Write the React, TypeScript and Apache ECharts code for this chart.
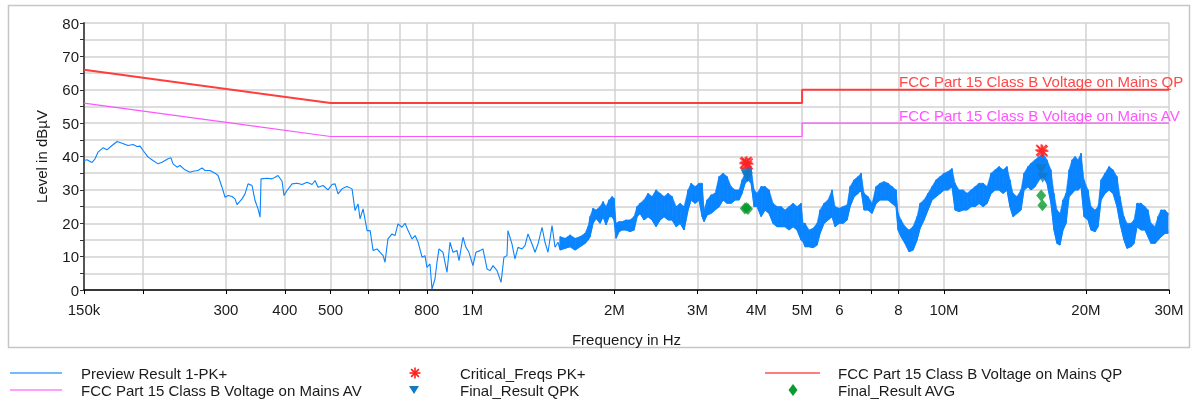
import React, { useEffect, useRef } from 'react';
import * as echarts from 'echarts';

const W = 1196;
const H = 402;
const FONT = '"Liberation Sans", Arial, Helvetica, sans-serif';

// ---- axis ticks ----
const xTickFreqHz = [150e3, 200e3, 300e3, 400e3, 500e3, 600e3, 700e3, 800e3, 1e6, 2e6, 3e6, 4e6, 5e6, 6e6, 7e6, 8e6, 10e6, 20e6, 30e6];
const xTickLabels = ['150k', '', '300', '400', '500', '', '', '800', '1M', '2M', '3M', '4M', '5M', '6', '', '8', '10M', '20M', '30M'];

// ---- limit lines (MHz, dBµV) ----
const qpLimitFreqMHz = [0.15, 0.5, 5, 5, 30];
const qpLimitLevel = [66, 56, 56, 60, 60];
const avLimitFreqMHz = [0.15, 0.5, 5, 5, 30];
const avLimitLevel = [56, 46, 46, 50, 50];

// ---- preview trace, low band (MHz, dBµV) ----
const previewLow: [number, number][] = [
  [0.150, 38.8], [0.1522, 39], [0.1560, 38.2], [0.1583, 39.3], [0.1606, 41.3], [0.1646, 42.6], [0.1678, 42], [0.1720, 43.3],
  [0.1763, 44.5], [0.1806, 44], [0.1860, 43.3], [0.1906, 43.6], [0.1944, 43], [0.1972, 43.1], [0.2002, 41.8], [0.2051, 39.8],
  [0.2101, 38.8], [0.2154, 37.8], [0.2196, 38.3], [0.2228, 38.8], [0.2261, 39.3], [0.2294, 39.6], [0.2317, 37.8], [0.2362, 36.8],
  [0.2397, 37.3], [0.2456, 36], [0.2517, 35.3], [0.2554, 35.6], [0.2617, 35.8], [0.2669, 36.6], [0.2708, 35.8], [0.2775, 35.8],
  [0.2844, 35], [0.2886, 34.3], [0.2943, 30.8], [0.2987, 27.8], [0.3031, 28.3], [0.3091, 28], [0.3136, 27.3], [0.3167, 25.6],
  [0.3245, 27.3], [0.3293, 28.8], [0.3342, 31.8], [0.3408, 31.3], [0.3458, 26.8], [0.3509, 24.3], [0.3544, 21.8], [0.3561, 33.3],
  [0.3667, 33.5], [0.3757, 33.3], [0.3813, 33.8], [0.3869, 34.3], [0.3945, 32.6], [0.3984, 28.3], [0.4043, 29.8], [0.4143, 31.8],
  [0.4245, 32], [0.4351, 31.6], [0.4458, 32.3], [0.4568, 31.6], [0.4636, 32.8], [0.4704, 30.8], [0.4821, 31.3], [0.4938, 30],
  [0.5036, 31.6], [0.5111, 31.8], [0.5186, 28.8], [0.5289, 30.3], [0.5366, 30.8], [0.5419, 31], [0.5553, 30.3], [0.5635, 23.8],
  [0.5719, 25.8], [0.5775, 21.3], [0.5860, 24.3], [0.5977, 17.8], [0.6066, 17.8], [0.6155, 11.8], [0.6276, 12.3], [0.6369, 11.3],
  [0.6464, 10.3], [0.6522, 8.3], [0.6618, 15.3], [0.6749, 16.8], [0.6849, 16.3], [0.6950, 19.8], [0.7087, 18.8], [0.7195, 20],
  [0.7301, 17.8], [0.7446, 15.3], [0.7556, 16.3], [0.7668, 14.3], [0.7819, 9.8], [0.7929, 10.3], [0.8007, 6.8], [0.8125, 7.8],
  [0.8205, 0.3], [0.8326, 3.3], [0.8408, 8.3], [0.8490, 12.3], [0.8658, 11.3], [0.8829, 5.3], [0.8959, 14.3], [0.9092, 11.3],
  [0.9271, 11.8], [0.9362, 8.8], [0.9547, 15.8], [0.9684, 12.8], [0.9827, 11.3], [1.0022, 7.3], [1.0169, 11.3], [1.0371, 11.8],
  [1.0524, 12.3], [1.0737, 6.3], [1.0895, 5.8], [1.1056, 7.3], [1.1274, 5.8], [1.1497, 2.3], [1.166, 9.8], [1.1833, 10.3],
  [1.1890, 17.8], [1.2125, 13.8], [1.2305, 9.3], [1.2487, 12.8], [1.2733, 12.3], [1.2923, 13.3], [1.3113, 16.8], [1.3373, 13.8],
  [1.3571, 11.3], [1.3771, 13.8], [1.4043, 18.8], [1.4249, 14.3], [1.4459, 11.3], [1.4746, 19.3], [1.4964, 12.8], [1.5185, 14.3],
];

// ---- preview trace, dense band (MHz, upper dBµV, lower dBµV) ----
const previewDense: [number, number, number][] = [
  [1.5334, 16, 12], [1.5717, 15.5, 12.5], [1.6106, 16.5, 13], [1.6505, 15.5, 12], [1.6913, 16, 13], [1.7324, 17, 14],
  [1.7580, 19, 15], [1.7754, 22, 16], [1.8016, 24.5, 20], [1.8281, 24, 21.5], [1.8643, 25, 20], [1.8919, 26.5, 22],
  [1.9196, 25, 19.5], [1.9480, 27, 22], [1.9769, 28, 22], [1.9962, 27.5, 21], [2.0158, 20, 15.5], [2.0457, 20.5, 17.5],
  [2.0759, 20.5, 18], [2.1165, 21, 18], [2.1585, 21, 17.5], [2.2010, 22, 18], [2.2335, 25, 22], [2.2666, 26, 23],
  [2.311, 27, 21], [2.3565, 29, 22], [2.4032, 28, 21], [2.4506, 30, 19], [2.4991, 29, 21], [2.549, 28, 22],
  [2.5992, 29, 21], [2.6507, 28, 21], [2.7030, 25, 19], [2.7565, 26, 20], [2.810, 25, 18], [2.8654, 30, 24],
  [2.9078, 32, 27], [2.9654, 31, 26], [3.0238, 32, 27], [3.0685, 32, 22], [3.098, 24, 20.5], [3.1438, 27, 22.5],
  [3.2058, 28.5, 23], [3.2693, 29, 24], [3.3338, 34, 25], [3.3997, 35, 27], [3.4666, 34, 26], [3.5349, 31, 26],
  [3.6049, 30, 27], [3.6760, 30, 27], [3.7303, 33, 29], [3.7855, 35, 32], [3.8412, 37, 33], [3.8981, 36.5, 32],
  [3.9557, 30, 25], [4.0141, 29, 25], [4.0936, 31, 22], [4.1733, 31, 24], [4.2556, 30, 23], [4.3399, 26, 20],
  [4.4254, 25, 19], [4.5131, 25, 19], [4.6014, 24, 19], [4.6921, 25, 18], [4.7851, 26, 19], [4.8794, 25, 18],
  [4.9760, 26, 15], [5.0250, 20, 14.5], [5.0727, 20, 13], [5.1727, 18, 13], [5.2752, 18.5, 12.7], [5.3791, 20, 13.5],
  [5.4589, 24, 17], [5.566, 26, 20], [5.6757, 27, 21], [5.7881, 30, 22], [5.8738, 25, 19], [5.9896, 24.5, 20],
  [6.1081, 25, 20], [6.2288, 25.5, 21], [6.3209, 31, 25], [6.4455, 33, 28], [6.5732, 34, 29], [6.6702, 35, 30],
  [6.767, 29, 24], [6.9003, 28, 24], [7.0370, 26, 23], [7.1757, 31, 26], [7.3178, 32, 27], [7.461, 32.5, 27],
  [7.6080, 32, 27], [7.7587, 31, 26], [7.9116, 30, 25], [7.9900, 23, 18], [8.1079, 21, 16], [8.2663, 19, 14],
  [8.4292, 18, 11.5], [8.5962, 19, 12], [8.7656, 22, 15], [8.8956, 26, 18.5], [9.070, 27, 21], [9.2487, 29, 24],
  [9.4319, 31, 27], [9.6178, 33, 28], [9.8083, 34, 29], [10.00, 35, 30], [10.197, 35.5, 30], [10.399, 36.4, 31],
  [10.553, 32, 24], [10.761, 30, 23.5], [10.974, 30, 24], [11.193, 29, 24], [11.414, 30, 25], [11.640, 31, 25],
  [11.869, 32, 26], [12.104, 32, 25], [12.340, 31, 26], [12.583, 35, 29], [12.832, 36, 30], [13.085, 37, 30],
  [13.344, 36, 29], [13.598, 37, 30], [13.799, 33, 25], [14.003, 29, 22], [14.279, 28, 23], [14.562, 30, 24],
  [14.78, 35, 30], [15.071, 37, 31], [15.294, 38, 30], [15.597, 39, 31], [15.905, 40, 33], [16.220, 41, 34],
  [16.531, 39, 32], [16.857, 36, 26], [17.106, 29, 18], [17.359, 24, 14], [17.616, 23, 13.5], [17.877, 27, 18],
  [18.146, 29, 20], [18.414, 36, 28], [18.687, 39, 29], [18.964, 40, 30], [19.244, 39, 30], [19.528, 41, 31],
  [19.81, 33, 22], [20.200, 30, 21], [20.499, 25, 18], [20.906, 24, 17.5], [21.214, 25, 19], [21.528, 33, 27],
  [21.947, 35, 29], [22.379, 37, 30], [22.823, 36, 29], [23.273, 34, 25], [23.618, 28, 20], [24.08, 22, 15],
  [24.436, 20, 12.5], [24.918, 20, 13], [25.286, 21, 14], [25.660, 26, 19], [26.168, 26, 18], [26.680, 25, 18],
  [27.073, 24, 16], [27.474, 20, 14], [28.018, 19, 14], [28.432, 22, 15], [28.852, 24, 16], [29.423, 24, 17],
  [29.857, 23, 17],
];

// ---- markers ----
const critFreqMHz = [3.79, 3.81, 3.83, 16.09, 16.17];
const critLevel = [38.0, 38.3, 37.8, 41.9, 41.6];
const qpkFreqMHz = [3.79, 3.81, 3.83, 16.07, 16.19];
const qpkLevel = [35.2, 34.5, 33.8, 36.2, 33.6];
const avgFreqMHz = [3.78, 3.81, 3.84, 16.07, 16.17];
const avgLevel = [24.4, 24.6, 24.3, 28.3, 25.4];

const NAMES = {
  preview: 'Preview Result 1-PK+',
  qp: 'FCC Part 15 Class B Voltage on Mains QP',
  av: 'FCC Part 15 Class B Voltage on Mains AV',
  crit: 'Critical_Freqs PK+',
  qpk: 'Final_Result QPK',
  avg: 'Final_Result AVG',
};

const COLORS = {
  preview: '#0a84ff',
  qp: '#ff3d3d',
  av: '#ff55ff',
  crit: '#ff1f1f',
  qpk: '#1279c2',
  avg: '#0a9a2e',
  grid: '#d2d2d2',
  text: '#1a1a1a',
};

const ASTERISK =
  'path://M0,4.2H10V5.8H0Z M4.2,0H5.8V10H4.2Z M1.2,0.1L9.9,8.8L8.8,9.9L0.1,1.2Z M8.8,0.1L9.9,1.2L1.2,9.9L0.1,8.8Z';

const lx = (mhz: number) => Math.log10(mhz * 1e6);

export default function App() {
  const ref = useRef<HTMLDivElement>(null);

  useEffect(() => {
    if (!ref.current) return;
    const chart = echarts.init(ref.current, null, { renderer: 'svg', width: W, height: H });

    // low band: ordinary polyline
    const lowData: number[][] = previewLow.map(([f, v]) => [lx(f), v]);
    // dense band: the sweep swings between the read upper and lower envelope
    const last = previewLow[previewLow.length - 1];
    const denseData: number[][] = [[lx(last[0]), last[1]]];
    previewDense.forEach(([f, hi, lo], i) => {
      if (i === 0) {
        denseData.push([lx(f), lo], [lx(f), hi]);
        return;
      }
      const [pf, , plo] = previewDense[i - 1];
      denseData.push([lx(f), lo], [lx(pf), plo], [lx(f), hi]);
    });
    // cells between consecutive envelope readings, filled as the swept band
    const bandCells: number[][] = [];
    for (let i = 0; i < previewDense.length - 1; i++) {
      const [f0, h0, l0] = previewDense[i];
      const [f1, h1, l1] = previewDense[i + 1];
      bandCells.push([lx(f0), h0, l0, lx(f1), h1, l1]);
    }

    const tickVals = xTickFreqHz.map((f) => Math.log10(f));
    const labelVals = tickVals.filter((_, i) => xTickLabels[i] !== '');

    chart.setOption({
      animation: false,
      textStyle: { fontFamily: FONT },
      grid: { left: 84, right: 27, top: 23, bottom: 112 },
      xAxis: {
        type: 'value',
        min: lx(0.15),
        max: lx(30),
        name: 'Frequency in Hz',
        nameLocation: 'middle',
        nameGap: 42,
        nameTextStyle: { fontSize: 15, color: COLORS.text, fontFamily: FONT },
        axisLine: { show: true, onZero: false, lineStyle: { color: '#000', width: 1.5 } },
        axisTick: { show: true, customValues: tickVals, length: 4, lineStyle: { color: '#000', width: 1 } },
        axisLabel: {
          customValues: labelVals,
          margin: 12,
          fontSize: 15,
          color: COLORS.text,
          fontFamily: FONT,
          formatter: (v: number) => {
            const i = tickVals.findIndex((t) => Math.abs(t - v) < 1e-6);
            return i >= 0 ? xTickLabels[i] : '';
          },
        },
        splitLine: { show: true, lineStyle: { color: COLORS.grid, width: 1.5 } },
      },
      yAxis: {
        type: 'value',
        min: 0,
        max: 80,
        interval: 5,
        name: 'Level in dBµV',
        nameLocation: 'middle',
        nameGap: 35,
        nameTextStyle: { fontSize: 15, color: COLORS.text, fontFamily: FONT },
        axisLine: { show: true, lineStyle: { color: '#555', width: 2 } },
        axisTick: { show: true, length: 4, lineStyle: { color: '#333', width: 1 } },
        axisLabel: {
          margin: 5,
          fontSize: 15,
          color: COLORS.text,
          fontFamily: FONT,
          formatter: (v: number) => (v % 10 === 0 ? String(v) : ''),
        },
        splitLine: { show: true, lineStyle: { color: COLORS.grid, width: 1.5 } },
      },
      series: [
        {
          name: NAMES.preview,
          type: 'custom',
          data: bandCells,
          encode: { x: [0, 3], y: [1, 2, 4, 5] },
          silent: true,
          z: 1,
          renderItem: (_params: any, api: any) => {
            const a = api.coord([api.value(0), api.value(1)]);
            const b = api.coord([api.value(3), api.value(4)]);
            const c = api.coord([api.value(3), api.value(5)]);
            const d = api.coord([api.value(0), api.value(2)]);
            return {
              type: 'polygon',
              shape: { points: [a, b, c, d] },
              style: { fill: COLORS.preview, stroke: COLORS.preview, lineWidth: 0.6 },
            };
          },
        },
        {
          name: NAMES.preview,
          type: 'line',
          data: lowData,
          symbol: 'none',
          showSymbol: false,
          lineStyle: { color: COLORS.preview, width: 1.1 },
          z: 2,
        },
        {
          name: NAMES.preview,
          type: 'line',
          data: denseData,
          symbol: 'none',
          showSymbol: false,
          lineStyle: { color: COLORS.preview, width: 1.1 },
          z: 2,
        },
        {
          name: NAMES.qp,
          type: 'line',
          data: qpLimitFreqMHz.map((f, i) => [lx(f), qpLimitLevel[i]]),
          symbol: 'none',
          lineStyle: { color: COLORS.qp, width: 2 },
          z: 3,
        },
        {
          name: NAMES.av,
          type: 'line',
          data: avLimitFreqMHz.map((f, i) => [lx(f), avLimitLevel[i]]),
          symbol: 'none',
          lineStyle: { color: COLORS.av, width: 1.2 },
          z: 3,
        },
        {
          name: NAMES.avg,
          type: 'scatter',
          data: avgFreqMHz.map((f, i) => [lx(f), avgLevel[i]]),
          symbol: 'diamond',
          symbolSize: [10, 12],
          itemStyle: { color: COLORS.avg },
          z: 4,
        },
        {
          name: NAMES.qpk,
          type: 'scatter',
          data: qpkFreqMHz.map((f, i) => [lx(f), qpkLevel[i]]),
          symbol: 'triangle',
          symbolRotate: 180,
          symbolSize: [11, 10],
          itemStyle: { color: COLORS.qpk },
          z: 5,
        },
        {
          name: NAMES.crit,
          type: 'scatter',
          data: critFreqMHz.map((f, i) => [lx(f), critLevel[i]]),
          symbol: ASTERISK,
          symbolSize: 12,
          itemStyle: { color: COLORS.crit },
          z: 6,
        },
      ],
    });

    const qpEnd = chart.convertToPixel({ gridIndex: 0 }, [lx(qpLimitFreqMHz[qpLimitFreqMHz.length - 1]), qpLimitLevel[qpLimitLevel.length - 1]]) as number[];
    const avEnd = chart.convertToPixel({ gridIndex: 0 }, [lx(avLimitFreqMHz[avLimitFreqMHz.length - 1]), avLimitLevel[avLimitLevel.length - 1]]) as number[];

    const txt = (x: number, y: number, text: string, fill = COLORS.text, align = 'left') => ({
      type: 'text',
      x,
      y,
      silent: true,
      style: { text, fill, font: `15px ${FONT}`, align, verticalAlign: 'middle' },
    });
    const r1 = 373;
    const r2 = 390;
    const ast = (cx: number, cy: number) => {
      const s = 5.5;
      const d = 3.9;
      return [
        [cx - s, cy, cx + s, cy],
        [cx, cy - s, cx, cy + s],
        [cx - d, cy - d, cx + d, cy + d],
        [cx - d, cy + d, cx + d, cy - d],
      ].map(([x1, y1, x2, y2]) => ({
        type: 'line',
        silent: true,
        shape: { x1, y1, x2, y2 },
        style: { stroke: COLORS.crit, lineWidth: 1.6 },
      }));
    };

    chart.setOption({
      graphic: [
        {
          type: 'rect',
          silent: true,
          z: -10,
          shape: { x: 8.5, y: 5.5, width: 1181, height: 342 },
          style: { fill: 'none', stroke: '#c6c6c6', lineWidth: 1.5 },
        },
        txt(qpEnd[0] - 270, qpEnd[1] - 8, NAMES.qp, '#ff4848'),
        txt(avEnd[0] - 270, avEnd[1] - 8, NAMES.av, '#ff55ff'),
        // legend row 1
        { type: 'line', silent: true, shape: { x1: 10, y1: r1, x2: 62, y2: r1 }, style: { stroke: COLORS.preview, lineWidth: 1.5, opacity: 0.75 } },
        txt(81, r1, NAMES.preview),
        ...ast(415, r1),
        txt(460, r1, NAMES.crit),
        { type: 'line', silent: true, shape: { x1: 765, y1: r1, x2: 820, y2: r1 }, style: { stroke: COLORS.qp, lineWidth: 1.5, opacity: 0.9 } },
        txt(838, r1, NAMES.qp),
        // legend row 2
        { type: 'line', silent: true, shape: { x1: 10, y1: r2, x2: 62, y2: r2 }, style: { stroke: COLORS.av, lineWidth: 1.5, opacity: 0.75 } },
        txt(81, r2, NAMES.av),
        { type: 'polygon', silent: true, shape: { points: [[409, r2 - 4], [419, r2 - 4], [414, r2 + 4]] }, style: { fill: COLORS.qpk } },
        txt(460, r2, NAMES.qpk),
        { type: 'polygon', silent: true, shape: { points: [[793, r2 - 6], [797.5, r2], [793, r2 + 6], [788.5, r2]] }, style: { fill: COLORS.avg } },
        txt(838, r2, NAMES.avg),
      ],
    });

    return () => chart.dispose();
  }, []);

  return <div ref={ref} style={{ position: 'fixed', left: 0, top: 0, width: W, height: H }} />;
}
